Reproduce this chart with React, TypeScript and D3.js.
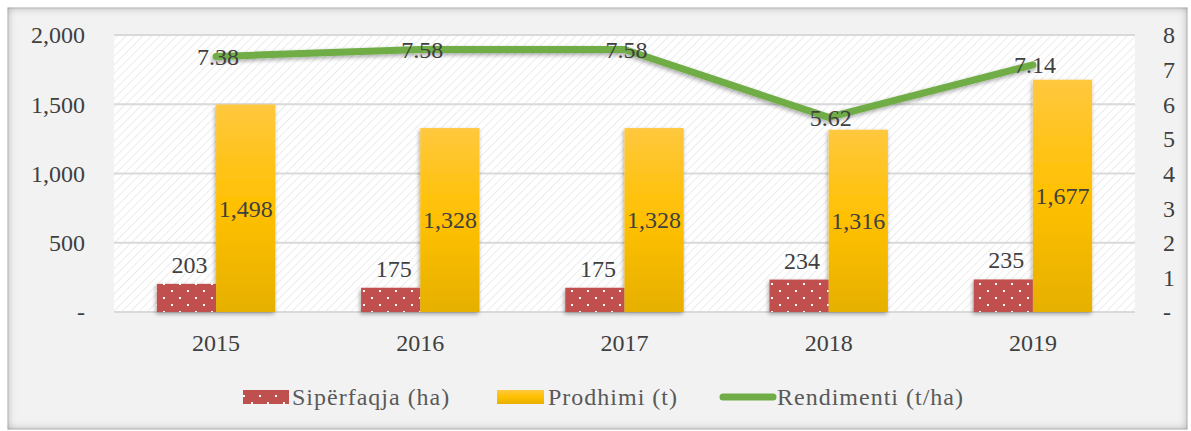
import React from "react";
import * as d3 from "d3";

const years = ["2015", "2016", "2017", "2018", "2019"];
const siperfaqja = [203, 175, 175, 234, 235];
const prodhimi = [1498, 1328, 1328, 1316, 1677];
const rendimenti = [7.38, 7.58, 7.58, 5.62, 7.14];
const leftTicks = [0, 500, 1000, 1500, 2000];
const rightTicks = [0, 1, 2, 3, 4, 5, 6, 7, 8];

const W = 1191;
const H = 431;
const plot = { left: 114, right: 1135, top: 35, bottom: 312 };
const FONT = "'Liberation Serif', 'DejaVu Serif', serif";
const TXT = "#404040";

export default function App() {
  const x = d3.scaleBand<string>().domain(years).range([plot.left, plot.right]).paddingInner(0).paddingOuter(0);
  const yL = d3.scaleLinear().domain([0, 2000]).range([plot.bottom, plot.top]);
  const yR = d3.scaleLinear().domain([0, 8]).range([plot.bottom, plot.top]);
  const bw = x.bandwidth() * 0.29;
  const cx = (y: string) => (x(y) as number) + x.bandwidth() / 2;
  const fmt = d3.format(",");
  const line = d3
    .line<number>()
    .x((_, i) => cx(years[i]))
    .y((d) => yR(d));

  return (
    <svg width={W} height={H} style={{ position: "absolute", left: 0, top: 0 }} fontFamily={FONT}>
      <defs>
        <pattern id="hatch" width="6" height="6" patternUnits="userSpaceOnUse" patternTransform="rotate(45)">
          <rect width="6" height="6" fill="#ffffff" />
          <line x1="0" y1="0" x2="0" y2="6" stroke="#e6e6e6" strokeWidth="1.5" />
        </pattern>
        <pattern id="dots" width="16" height="14" patternUnits="userSpaceOnUse">
          <rect width="16" height="14" fill="#c0504d" />
          <rect x="3" y="3" width="2" height="2" fill="#ffffff" />
          <rect x="11" y="10" width="2" height="2" fill="#ffffff" />
        </pattern>
        <linearGradient id="gold" x1="0" y1="0" x2="0" y2="1">
          <stop offset="0" stopColor="#ffc83e" />
          <stop offset="0.5" stopColor="#ffc000" />
          <stop offset="1" stopColor="#e6b000" />
        </linearGradient>
        <filter id="inset" x="-5%" y="-10%" width="110%" height="120%">
          <feFlood floodColor="#000" floodOpacity="0.6" />
          <feComposite in2="SourceAlpha" operator="out" />
          <feGaussianBlur stdDeviation="4" />
          <feComposite in2="SourceAlpha" operator="in" result="sh" />
          <feMerge>
            <feMergeNode in="SourceGraphic" />
            <feMergeNode in="sh" />
          </feMerge>
        </filter>
        <filter id="shadow" x="-10%" y="-10%" width="120%" height="130%">
          <feGaussianBlur in="SourceAlpha" stdDeviation="2" />
          <feOffset dx="-1" dy="2" result="b" />
          <feComponentTransfer>
            <feFuncA type="linear" slope="0.35" />
          </feComponentTransfer>
          <feMerge>
            <feMergeNode />
            <feMergeNode in="SourceGraphic" />
          </feMerge>
        </filter>
      </defs>
      <rect x={0} y={0} width={W} height={H} fill="#ffffff" />
      <rect x={8} y={8} width={1179} height={421} fill="#f2f2f2" stroke="#d0d0d0" strokeWidth={1} filter="url(#inset)" />

      <rect x={plot.left} y={plot.top} width={plot.right - plot.left} height={plot.bottom - plot.top} fill="url(#hatch)" />
      {leftTicks.map((t) => (
        <line key={t} x1={plot.left} x2={plot.right} y1={yL(t)} y2={yL(t)} stroke="#d9d9d9" strokeWidth={2} />
      ))}

      {leftTicks.map((t) => (
        <text key={t} x={85} y={yL(t)} dy="0.35em" textAnchor="end" fontSize={24} fill={TXT}>
          {t === 0 ? "-" : fmt(t)}
        </text>
      ))}
      {rightTicks.map((t) => (
        <text key={t} x={1163} y={yR(t)} dy="0.35em" textAnchor="start" fontSize={24} fill={TXT}>
          {t === 0 ? "-" : t}
        </text>
      ))}
      {years.map((y) => (
        <text key={y} x={cx(y)} y={343} dy="0.35em" textAnchor="middle" fontSize={24} fill={TXT}>
          {y}
        </text>
      ))}

      {years.map((y, i) => (
        <g key={y} filter="url(#shadow)">
          <rect x={cx(y) - bw} y={yL(siperfaqja[i])} width={bw} height={yL(0) - yL(siperfaqja[i])} fill="url(#dots)" />
          <rect x={cx(y)} y={yL(prodhimi[i])} width={bw} height={yL(0) - yL(prodhimi[i])} fill="url(#gold)" />
        </g>
      ))}
      {years.map((y, i) => (
        <g key={y}>
          <text x={cx(y) - bw / 2 + 3} y={yL(siperfaqja[i]) - 11} textAnchor="middle" fontSize={24} fill={TXT}>
            {fmt(siperfaqja[i])}
          </text>
          <text x={cx(y) + bw / 2} y={(yL(prodhimi[i]) + yL(0)) / 2} dy="0.35em" textAnchor="middle" fontSize={24} fill={TXT}>
            {fmt(prodhimi[i])}
          </text>
        </g>
      ))}

      <path d={line(rendimenti) as string} fill="none" stroke="#70ad47" strokeWidth={7} strokeLinejoin="round" strokeLinecap="round" filter="url(#shadow)" />
      {years.map((y, i) => (
        <text key={y} x={cx(y) + 2} y={yR(rendimenti[i])} dy="0.35em" textAnchor="middle" fontSize={24} fill={TXT}>
          {rendimenti[i].toFixed(2)}
        </text>
      ))}

      <g fontSize={24} fill="#595959" letterSpacing={1}>
        <rect x={243} y={390} width={46} height={14} fill="url(#dots)" />
        <text x={292} y={397} dy="0.35em">Sipërfaqja (ha)</text>
        <rect x={497} y={390} width={47} height={14} fill="url(#gold)" />
        <text x={548} y={397} dy="0.35em">Prodhimi (t)</text>
        <line x1={723} x2={773} y1={397} y2={397} stroke="#70ad47" strokeWidth={7} strokeLinecap="round" />
        <text x={777} y={397} dy="0.35em">Rendimenti (t/ha)</text>
      </g>
    </svg>
  );
}
